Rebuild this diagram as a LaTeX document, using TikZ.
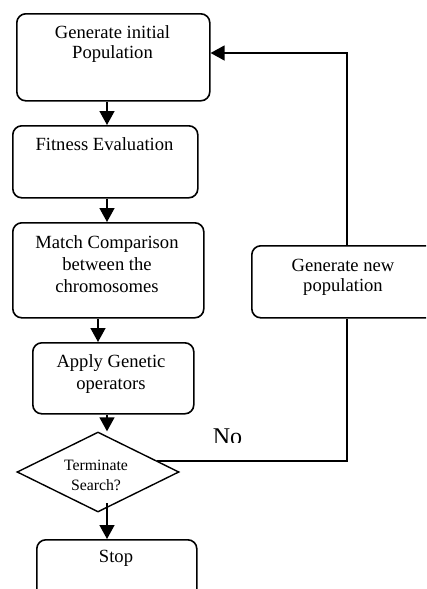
\documentclass[tikz,border=0pt]{standalone}
\usepackage{fontspec}
\setmainfont{Liberation Serif}
\usetikzlibrary{shapes.geometric,arrows.meta,calc}
\begin{document}
\begin{tikzpicture}[x=1pt,y=-1pt,
  box/.style={draw, line width=1.6pt, rounded corners=9pt, fill=white, inner sep=0pt, anchor=north west},
  lbl/.style={align=center, inner sep=0pt},
  big/.style={font=\fontsize{18.6}{20}\selectfont},
  bigw/.style={font=\fontsize{18.6}{22}\selectfont},
  arr/.style={line width=1.5pt, -{Triangle[length=14pt,width=15pt]}},
  ln/.style={line width=1.5pt}]
\useasboundingbox (0,0) rectangle (426,589);
\clip (0,0) rectangle (426,589);
% coordinates for connector columns
\coordinate (xa) at (107,0);
\coordinate (xb) at (98,0);
\coordinate (xg) at (347,0);
\coordinate (rety) at (0,53);
\coordinate (dno) at (157,461);
\coordinate (dbot) at (107,503);
% boxes
\node[box, minimum width=193pt, minimum height=87pt] (b1) at (16,13) {};
\node[box, minimum width=185pt, minimum height=72pt] (b2) at (12,125) {};
\node[box, minimum width=191pt, minimum height=95pt] (b3) at (12,222) {};
\node[box, minimum width=161pt, minimum height=71pt] (b4) at (32,342) {};
\node[box, minimum width=190pt, minimum height=72pt] (gnp) at (251,245) {};
\node[box, minimum width=160pt, minimum height=80pt] (stop) at (36,539) {};
\node[draw, shape=diamond, line width=1.4pt, inner sep=0pt, minimum width=162pt, minimum height=80pt] (d) at (98,472) {};
% texts
\node[lbl, big] (t1) at (112.5,44) {Generate initial\\Population};
\node[lbl, big] (t2) at (104.5,144) {Fitness Evaluation};
\node[lbl, bigw] (t3) at (107,264) {Match Comparison\\between the\\chromosomes};
\node[lbl, bigw] (t4) at (111,374) {Apply Genetic\\operators};
\node[lbl, font=\fontsize{15.8}{20}\selectfont] (td) at (96,475) {Terminate\\Search?};
\node[lbl, big] (tg) at (343,277) {Generate new\\population};
\node[lbl, big] (ts) at (116,558) {Stop};
\begin{scope}
\clip (200,420) rectangle (260,442);
\node[inner sep=0pt, anchor=base, font=\fontsize{24}{28}\selectfont] (no) at (227.5,444) {No};
\end{scope}
% arrows
\draw[arr] (b1.south -| xa) -- (b2.north -| xa);
\draw[arr] (b2.south -| xa) -- (b3.north -| xa);
\draw[arr] (b3.south -| xb) -- (b4.north -| xb);
\draw[arr] (b4.south -| xa) -- (d.north -| xa);
\draw[arr] (dbot) -- (stop.north -| xa);
\draw[ln] (dno) -- (dno -| xg) -- (gnp.south -| xg);
\draw[arr] (gnp.north -| xg) |- (b1.east |- rety);
\end{tikzpicture}
\end{document}
